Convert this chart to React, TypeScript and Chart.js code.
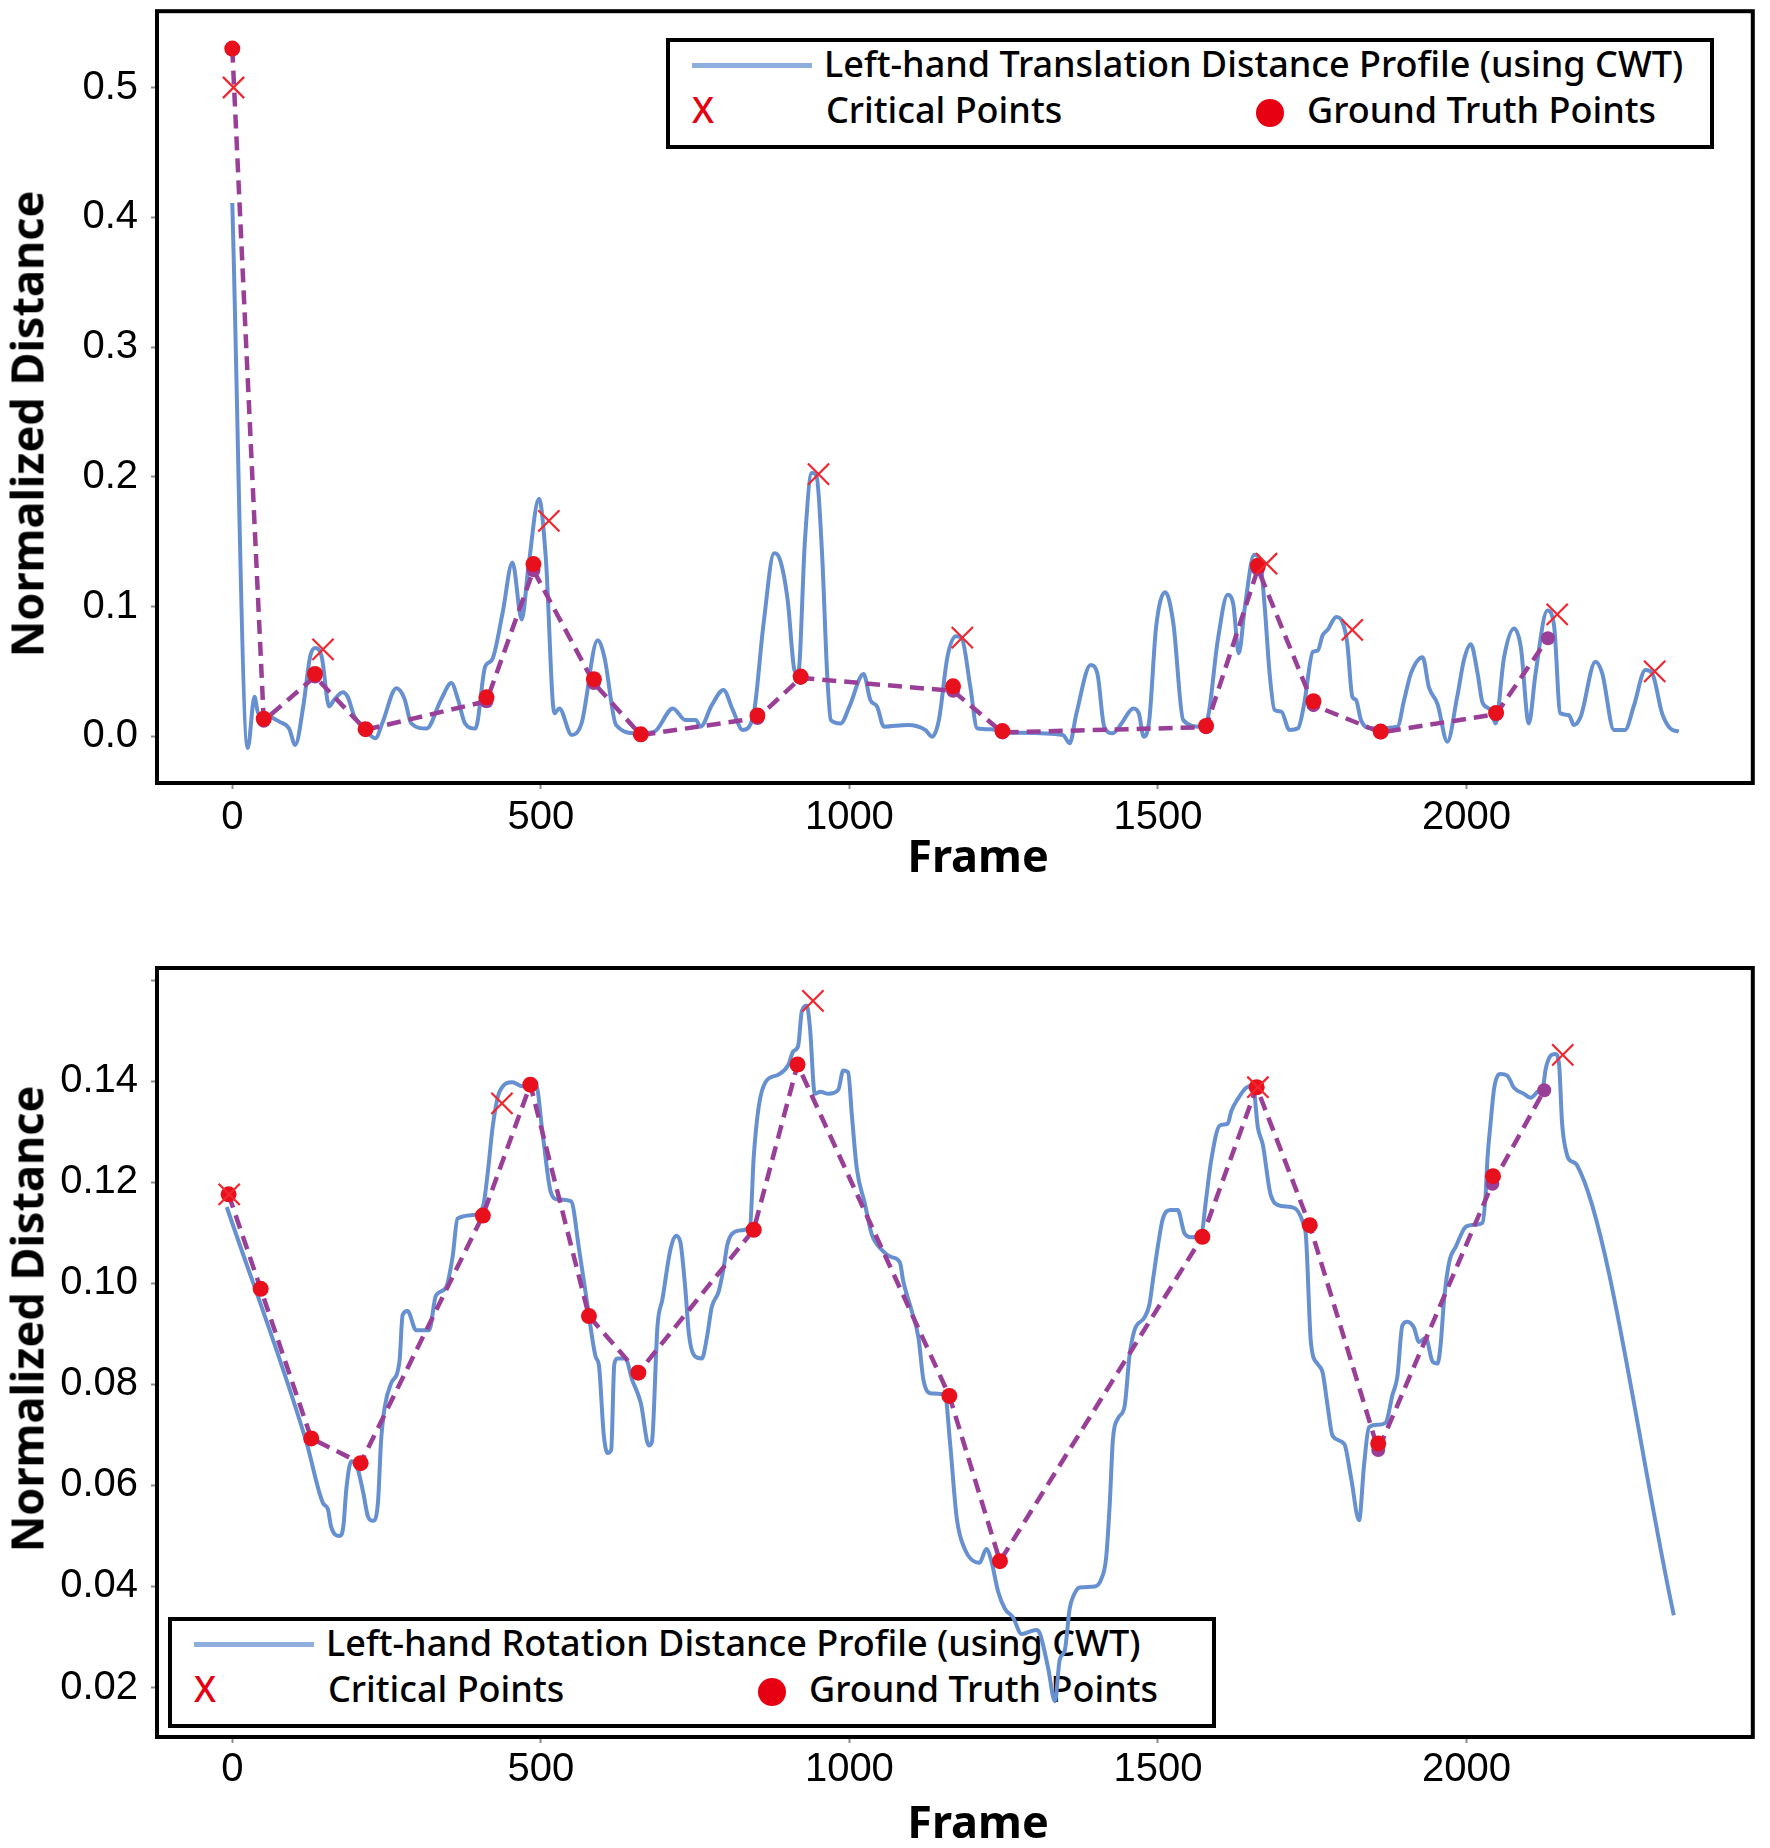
import { useEffect, useRef } from 'react';
import Chart from 'chart.js/auto';

type Pt = [number, number];

// axis ticks
const frameTicks = [0, 500, 1000, 1500, 2000];
const transTicks = [0, 0.1, 0.2, 0.3, 0.4, 0.5];
const transTickLabels = ['0.0', '0.1', '0.2', '0.3', '0.4', '0.5'];
const rotTicks = [0.02, 0.04, 0.06, 0.08, 0.1, 0.12, 0.14, 0.16];
const rotTickLabels = ['0.02', '0.04', '0.06', '0.08', '0.10', '0.12', '0.14', ''];

// translation panel: [frame, normalized distance]
const transProfile: Pt[] = [
  [0, 0.411], [25, -0.009], [36, 0.0305], [42, 0.0177], [53, 0.0164], [76, 0.0113], [92, 0.006], [102, -0.0067],
  [115, 0.023], [126, 0.061], [134, 0.068], [145, 0.061], [157, 0.023], [165, 0.028], [179, 0.034], [187, 0.0305],
  [198, 0.0151], [212, 0.0074], [232, -0.0015], [243, 0.01], [266, 0.037], [279, 0.029], [290, 0.01], [315, 0.006],
  [338, 0.028], [355, 0.041], [366, 0.028], [377, 0.01], [394, 0.006], [410, 0.054], [421, 0.059], [438, 0.095],
  [454, 0.134], [469, 0.09], [480, 0.131], [497, 0.183], [508, 0.138], [522, 0.0177], [530, 0.0215], [550, 0.001],
  [566, 0.01], [592, 0.074], [603, 0.061], [622, 0.0087], [656, 0.0023], [684, 0.0036], [714, 0.0215], [734, 0.0126],
  [751, 0.0126], [759, 0.0074], [777, 0.024], [796, 0.0357], [811, 0.0203], [827, 0.0049], [844, 0.015], [861, 0.087],
  [878, 0.141], [886, 0.138], [900, 0.105], [911, 0.051], [917, 0.048], [928, 0.151], [939, 0.203], [947, 0.2],
  [956, 0.138], [964, 0.048], [970, 0.0125], [986, 0.0099], [1000, 0.0228], [1023, 0.048], [1034, 0.028], [1045, 0.0228],
  [1056, 0.0074], [1095, 0.0087], [1123, 0.0049], [1134, -0.0003], [1145, 0.0125], [1159, 0.0614], [1173, 0.077], [1182, 0.0756],
  [1196, 0.038], [1207, 0.0062], [1229, 0.0054], [1262, 0.0028], [1346, 0.001], [1357, -0.0054], [1368, 0.0177], [1391, 0.0549],
  [1402, 0.048], [1413, 0.0074], [1427, 0.0023], [1441, 0.0099], [1460, 0.0215], [1469, 0.0177], [1477, -0.0003], [1486, 0.0125],
  [1497, 0.084], [1512, 0.111], [1525, 0.087], [1541, 0.0125], [1569, 0.0074], [1580, 0.0125], [1597, 0.074], [1613, 0.109],
  [1622, 0.102], [1631, 0.064], [1641, 0.1], [1656, 0.14], [1665, 0.137], [1673, 0.1], [1681, 0.0485], [1689, 0.0203],
  [1700, 0.019], [1713, 0.0049], [1727, 0.0062], [1737, 0.025], [1751, 0.065], [1759, 0.066], [1767, 0.078], [1775, 0.082],
  [1789, 0.092], [1799, 0.088], [1807, 0.071], [1815, 0.0305], [1821, 0.028], [1829, 0.0125], [1845, 0.0062], [1888, 0.0074],
  [1899, 0.028], [1910, 0.0485], [1929, 0.061], [1939, 0.038], [1953, 0.025], [1969, -0.0042], [1985, 0.0305], [1996, 0.059],
  [2007, 0.071], [2018, 0.0485], [2026, 0.026], [2039, 0.0203], [2047, 0.0099], [2061, 0.061], [2077, 0.083], [2088, 0.069],
  [2101, 0.0099], [2112, 0.0485], [2131, 0.097], [2142, 0.085], [2152, 0.0177], [2166, 0.0164], [2174, 0.0087], [2185, 0.015],
  [2209, 0.0575], [2220, 0.0485], [2239, 0.0049], [2257, 0.0049], [2271, 0.023], [2290, 0.051], [2301, 0.0485], [2317, 0.0177],
  [2330, 0.0062], [2344, 0.0036],
];
const transMatched: Pt[] = [
  [0, 0.53], [51, 0.012], [134, 0.046], [216, 0.005], [412, 0.027], [488, 0.128], [586, 0.041], [662, 0.001],
  [851, 0.014], [921, 0.045], [1168, 0.035], [1248, 0.003], [1578, 0.007], [1662, 0.129], [1752, 0.024], [1861, 0.003],
  [2048, 0.017], [2132, 0.0755],
];
const transTruth: Pt[] = [
  [0, 0.53], [51, 0.0136], [134, 0.048], [216, 0.0055], [412, 0.03], [488, 0.1327], [586, 0.044], [662, 0.0015],
  [851, 0.016], [921, 0.046], [1168, 0.0385], [1248, 0.004], [1578, 0.008], [1662, 0.1315], [1752, 0.027], [1861, 0.0036],
  [2048, 0.018],
];
const transCritical: Pt[] = [
  [2, 0.5], [147, 0.067], [513, 0.166], [950, 0.202], [1183, 0.076], [1676, 0.133], [1815, 0.082], [2147, 0.094], [2305, 0.05],
];

// rotation panel
const rotProfile: Pt[] = [
  [-9, 0.1151], [120, 0.0686], [147, 0.0565], [155, 0.0553], [160, 0.0519], [174, 0.05], [180, 0.0519], [185, 0.0595],
  [193, 0.0648], [201, 0.0641], [212, 0.0587], [220, 0.0538], [228, 0.053], [236, 0.0565], [241, 0.0686], [247, 0.0755],
  [257, 0.0801], [271, 0.0846], [276, 0.0937], [284, 0.0945], [298, 0.0907], [319, 0.0907], [330, 0.0976], [346, 0.0991],
  [357, 0.1052], [365, 0.1128], [390, 0.1135], [406, 0.1151], [414, 0.1219], [422, 0.131], [433, 0.1379], [454, 0.1398],
  [470, 0.139], [492, 0.1394], [503, 0.1295], [516, 0.1181], [527, 0.1166], [549, 0.1162], [562, 0.1067], [576, 0.0953],
  [589, 0.0854], [594, 0.0839], [602, 0.07], [608, 0.0664], [614, 0.067], [619, 0.0839], [624, 0.0851], [637, 0.0851],
  [648, 0.0809], [662, 0.0763], [675, 0.0679], [680, 0.0686], [689, 0.0915], [697, 0.0968], [710, 0.1067], [719, 0.1094],
  [726, 0.1082], [734, 0.0991], [740, 0.0899], [748, 0.0858], [761, 0.0851], [769, 0.0892], [777, 0.0953], [788, 0.0983],
  [796, 0.1029], [802, 0.1075], [810, 0.1098], [826, 0.1105], [839, 0.1113], [845, 0.125], [853, 0.1349], [864, 0.1398],
  [885, 0.1413], [901, 0.1432], [909, 0.1459], [917, 0.147], [923, 0.1539], [931, 0.155], [936, 0.1508], [944, 0.1375],
  [953, 0.1379], [966, 0.1375], [982, 0.1383], [990, 0.1421], [998, 0.1417], [1004, 0.1333], [1012, 0.1227], [1025, 0.1158],
  [1036, 0.1098], [1052, 0.1067], [1068, 0.1052], [1082, 0.1041], [1087, 0.1006], [1101, 0.0945], [1112, 0.0892], [1120, 0.0809],
  [1133, 0.0782], [1155, 0.0779], [1163, 0.0686], [1174, 0.0535], [1187, 0.0474], [1211, 0.0447], [1222, 0.0474], [1230, 0.0451],
  [1241, 0.039], [1252, 0.0356], [1265, 0.0339], [1279, 0.0306], [1303, 0.0314], [1309, 0.0306], [1322, 0.0239], [1333, 0.0173],
  [1341, 0.0256], [1349, 0.0273], [1357, 0.0356], [1363, 0.0381], [1373, 0.0398], [1398, 0.04], [1408, 0.0414], [1416, 0.0456],
  [1422, 0.0565], [1427, 0.069], [1435, 0.0732], [1446, 0.0757], [1454, 0.0857], [1462, 0.0907], [1478, 0.0932], [1486, 0.0957],
  [1492, 0.1007], [1500, 0.1074], [1508, 0.1128], [1521, 0.1145], [1532, 0.1145], [1543, 0.1099], [1554, 0.1091], [1570, 0.1095],
  [1578, 0.1166], [1586, 0.1241], [1600, 0.1312], [1613, 0.1316], [1619, 0.1341], [1630, 0.1366], [1643, 0.1387], [1654, 0.1391],
  [1662, 0.1308], [1670, 0.1274], [1683, 0.1174], [1700, 0.1153], [1721, 0.1149], [1735, 0.112], [1740, 0.1091], [1748, 0.0882],
  [1759, 0.084], [1767, 0.0823], [1775, 0.0757], [1783, 0.0698], [1802, 0.0682], [1813, 0.0615], [1826, 0.0531], [1834, 0.064],
  [1842, 0.0715], [1856, 0.072], [1869, 0.0724], [1880, 0.0779], [1888, 0.0815], [1896, 0.0916], [1904, 0.0924], [1915, 0.0912],
  [1923, 0.0884], [1934, 0.0892], [1945, 0.0845], [1953, 0.0841], [1958, 0.0877], [1964, 0.0971], [1972, 0.1042], [1983, 0.1073],
  [1999, 0.1112], [2015, 0.1116], [2026, 0.112], [2031, 0.1175], [2034, 0.1246], [2039, 0.1316], [2045, 0.1387], [2055, 0.1414],
  [2066, 0.1411], [2077, 0.1387], [2093, 0.1375], [2104, 0.1367], [2115, 0.1379], [2125, 0.1395], [2128, 0.1422], [2136, 0.145],
  [2144, 0.1454], [2150, 0.1434], [2155, 0.1316], [2163, 0.1254], [2169, 0.1242], [2179, 0.1234], [2336, 0.0343],
];
const rotMatched: Pt[] = [
  [-6, 0.1176], [46, 0.0989], [128, 0.0693], [208, 0.0644], [406, 0.1134], [483, 0.1393], [578, 0.0935], [658, 0.0823],
  [845, 0.1106], [916, 0.1433], [1162, 0.0777], [1244, 0.045], [1572, 0.1092], [1660, 0.1388], [1746, 0.1115], [1857, 0.067],
  [2042, 0.1197], [2126, 0.1382],
];
const rotTruth: Pt[] = [
  [-6, 0.1176], [46, 0.0989], [128, 0.0693], [208, 0.0644], [406, 0.1134], [483, 0.1393], [578, 0.0935], [658, 0.0823],
  [845, 0.1106], [916, 0.1433], [1162, 0.0777], [1244, 0.045], [1572, 0.1092], [1660, 0.1388], [1746, 0.1115], [1857, 0.0683],
  [2043, 0.1212],
];
const rotCritical: Pt[] = [
  [-5, 0.1176], [437, 0.1356], [941, 0.1559], [1662, 0.1388], [2156, 0.1452],
];

const PAGE_W = 1770;
const PLOT_LEFT = 157;
const PLOT_RIGHT = 1756;
const X_MIN = -122;
const X_MAX = 2464;

const toXY = (pts: Pt[]) => pts.map(([x, y]) => ({ x, y }));

const plotFrame = {
  id: 'plotFrame',
  afterDraw(chart: Chart) {
    const { ctx, chartArea: a } = chart;
    ctx.save();
    ctx.strokeStyle = '#000';
    ctx.lineWidth = 4;
    ctx.strokeRect(a.left, a.top, a.right - a.left, a.bottom - a.top);
    ctx.restore();
  },
};

type PanelProps = {
  top: number;
  height: number;
  plotTop: number;
  plotBottom: number;
  yMin: number;
  yMax: number;
  yTicks: number[];
  yLabels: string[];
  xPad: number;
  profile: Pt[];
  matched: Pt[];
  truth: Pt[];
  critical: Pt[];
};

const Panel = (p: PanelProps) => {
  const canvasRef = useRef<HTMLCanvasElement>(null);

  useEffect(() => {
    if (!canvasRef.current) return;
    const tickFont = { family: "'Liberation Sans', Arial, sans-serif", size: 40 };
    const chart = new Chart(canvasRef.current, {
      type: 'line',
      data: {
        datasets: [
          {
            label: 'profile',
            data: toXY(p.profile),
            borderColor: '#6690d0',
            borderWidth: 4,
            pointRadius: 0,
            cubicInterpolationMode: 'monotone',
            order: 4,
          },
          {
            label: 'matched',
            data: toXY(p.matched),
            borderColor: '#9a3f98',
            borderWidth: 4.5,
            borderDash: [14, 8],
            tension: 0,
            pointRadius: 7,
            pointBackgroundColor: '#9a3f98',
            pointBorderWidth: 0,
            order: 3,
          },
          {
            label: 'truth',
            data: toXY(p.truth),
            showLine: false,
            pointRadius: 8,
            pointBackgroundColor: '#e8101c',
            pointBorderWidth: 0,
            order: 2,
          },
          {
            label: 'critical',
            data: toXY(p.critical),
            showLine: false,
            pointStyle: 'crossRot',
            pointRadius: 15,
            pointBorderColor: '#f2262e',
            pointBorderWidth: 2.2,
            order: 1,
          },
        ],
      },
      options: {
        animation: false,
        responsive: false,
        events: [],
        layout: { padding: { left: 0, right: PAGE_W - PLOT_RIGHT, top: p.plotTop, bottom: 0 } },
        plugins: { legend: { display: false }, tooltip: { enabled: false } },
        scales: {
          x: {
            type: 'linear',
            min: X_MIN,
            max: X_MAX,
            afterFit: (s: any) => {
              s.height = p.height - p.plotBottom;
              s.paddingLeft = 0;
              s.paddingRight = 0;
            },
            afterBuildTicks: (s: any) => {
              s.ticks = frameTicks.map((v) => ({ value: v }));
            },
            ticks: {
              font: tickFont,
              color: '#000',
              padding: p.xPad,
              autoSkip: false,
              maxRotation: 0,
              callback: (v: any) => String(v),
            },
            grid: { drawOnChartArea: false, drawTicks: true, tickLength: 6, tickColor: '#8a8a8a', tickWidth: 2 },
            border: { display: false },
          },
          y: {
            type: 'linear',
            min: p.yMin,
            max: p.yMax,
            afterFit: (s: any) => {
              s.width = PLOT_LEFT;
              s.paddingTop = 0;
              s.paddingBottom = 0;
            },
            afterBuildTicks: (s: any) => {
              s.ticks = p.yTicks.map((v) => ({ value: v }));
            },
            ticks: {
              font: tickFont,
              color: '#000',
              padding: 13,
              autoSkip: false,
              callback: (_v: any, i: number) => p.yLabels[i],
            },
            grid: { drawOnChartArea: false, drawTicks: true, tickLength: 6, tickColor: '#8a8a8a', tickWidth: 2 },
            border: { display: false },
          },
        },
      },
      plugins: [plotFrame],
    });
    return () => {
      chart.destroy();
    };
  }, []);

  return (
    <canvas
      ref={canvasRef}
      width={PAGE_W}
      height={p.height}
      style={{ position: 'absolute', left: 0, top: p.top, width: PAGE_W, height: p.height }}
    ></canvas>
  );
};

const Legend = ({ left, top, label }: { left: number; top: number; label: string }) => (
  <div
    style={{
      position: 'absolute',
      left,
      top,
      width: 1048,
      height: 111,
      border: '4px solid #000',
      boxSizing: 'border-box',
      fontFamily: "'Noto Sans', sans-serif",
      fontSize: 36,
      fontWeight: 500,
      lineHeight: 1,
      color: '#000',
      whiteSpace: 'nowrap',
    }}
  >
    <div style={{ position: 'absolute', left: 22, top: 21, width: 120, height: 5, background: '#8eaede' }} />
    <div style={{ position: 'absolute', left: 154, top: 4 }}>{label}</div>
    <div style={{ position: 'absolute', left: 22, top: 50, color: '#e60012' }}>X</div>
    <div style={{ position: 'absolute', left: 156, top: 50 }}>Critical Points</div>
    <div style={{ position: 'absolute', left: 586, top: 57, width: 28, height: 28, borderRadius: '50%', background: '#e60012' }} />
    <div style={{ position: 'absolute', left: 637, top: 50 }}>Ground Truth Points</div>
  </div>
);

const axisTitle = {
  position: 'absolute' as const,
  fontFamily: "'Noto Sans', sans-serif",
  fontWeight: 700,
  fontSize: 45,
  lineHeight: 1,
  color: '#000',
  whiteSpace: 'nowrap' as const,
};

const App = () => (
  <div style={{ position: 'absolute', left: 0, top: 0, width: PAGE_W, height: 1848, background: '#fff', overflow: 'hidden' }}>
    <Legend left={666} top={38} label="Left-hand Translation Distance Profile (using CWT)" />
    <Legend left={168} top={1617} label="Left-hand Rotation Distance Profile (using CWT)" />

    <Panel
      top={-6}
      height={906}
      plotTop={17}
      plotBottom={789}
      yMin={-0.036}
      yMax={0.5588}
      yTicks={transTicks}
      yLabels={transTickLabels}
      xPad={5}
      profile={transProfile}
      matched={transMatched}
      truth={transTruth}
      critical={transCritical}
    />
    <Panel
      top={900}
      height={948}
      plotTop={68}
      plotBottom={837}
      yMin={0.0102}
      yMax={0.1624}
      yTicks={rotTicks}
      yLabels={rotTickLabels}
      xPad={3}
      profile={rotProfile}
      matched={rotMatched}
      truth={rotTruth}
      critical={rotCritical}
    />

    <div style={{ ...axisTitle, left: 978, top: 854, transform: 'translate(-50%, -50%)' }}>Frame</div>
    <div style={{ ...axisTitle, left: 978, top: 1820, transform: 'translate(-50%, -50%)' }}>Frame</div>
    <div style={{ ...axisTitle, left: 26, top: 424, transform: 'translate(-50%, -50%) rotate(-90deg)' }}>Normalized Distance</div>
    <div style={{ ...axisTitle, left: 26, top: 1319, transform: 'translate(-50%, -50%) rotate(-90deg)' }}>Normalized Distance</div>
  </div>
);

export default App;
